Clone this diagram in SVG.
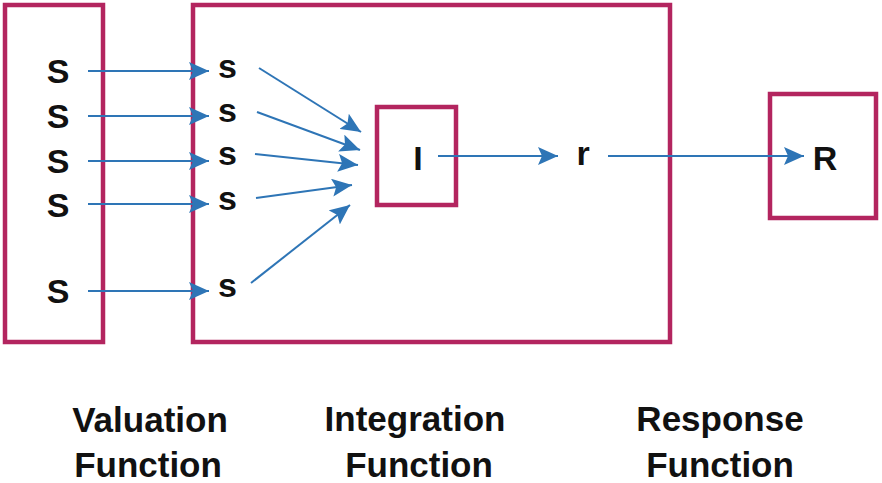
<svg xmlns="http://www.w3.org/2000/svg" width="882" height="483" viewBox="0 0 882 483">
  <style>
    .box { fill: none; stroke: #B3255F; stroke-width: 4.5; }
    .lbl { font-family: "Liberation Sans", Arial, sans-serif; font-weight: bold; font-size: 34px; fill: #111; }
    .cap { font-family: "Liberation Sans", Arial, sans-serif; font-weight: bold; font-size: 35px; fill: #111; text-anchor: middle; }
    .edge { fill: none; stroke: #2E75B6; stroke-width: 2; marker-end: url(#arrow); }
  </style>
  <defs>
    <marker id="arrow" markerUnits="userSpaceOnUse" markerWidth="22" markerHeight="18" refX="20" refY="9" orient="auto">
      <path d="M0,0 L20,9 L0,18 L4,9 z" fill="#2E75B6"/>
    </marker>
  </defs>
  <rect width="882" height="483" fill="#fff"/>

  <!-- Valuation stage -->
  <g id="valuation">
    <rect class="box" x="5" y="5" width="98" height="337"/>
    <text class="lbl" x="58" y="83" text-anchor="middle">S</text>
    <text class="lbl" x="58" y="128" text-anchor="middle">S</text>
    <text class="lbl" x="58" y="173" text-anchor="middle">S</text>
    <text class="lbl" x="58" y="217" text-anchor="middle">S</text>
    <text class="lbl" x="58" y="303" text-anchor="middle">S</text>
  </g>

  <!-- Integration stage -->
  <g id="integration">
    <rect class="box" x="193" y="5" width="477" height="337"/>
    <text class="lbl" x="218" y="78">s</text>
    <text class="lbl" x="218" y="122">s</text>
    <text class="lbl" x="218" y="165">s</text>
    <text class="lbl" x="218" y="210">s</text>
    <text class="lbl" x="218" y="297">s</text>
    <text class="lbl" x="583" y="165" text-anchor="middle">r</text>
  </g>

  <g id="integrator">
    <rect class="box" x="377" y="107" width="79" height="98"/>
    <text class="lbl" x="418" y="170" text-anchor="middle" font-size="36">I</text>
  </g>

  <!-- Response stage -->
  <g id="response">
    <rect class="box" x="770" y="94" width="106" height="124"/>
    <text class="lbl" x="825" y="170" text-anchor="middle">R</text>
  </g>

  <!-- Connectors -->
  <g id="connectors">
    <line class="edge" x1="88" y1="71" x2="209" y2="71"/>
    <line class="edge" x1="88" y1="116" x2="209" y2="116"/>
    <line class="edge" x1="88" y1="161" x2="209" y2="161"/>
    <line class="edge" x1="88" y1="204" x2="209" y2="204"/>
    <line class="edge" x1="88" y1="291" x2="209" y2="291"/>

    <line class="edge" x1="259" y1="68" x2="361" y2="132"/>
    <line class="edge" x1="257" y1="112" x2="360" y2="150"/>
    <line class="edge" x1="255" y1="154" x2="358" y2="165"/>
    <line class="edge" x1="256" y1="198" x2="352" y2="185"/>
    <line class="edge" x1="251" y1="283" x2="350" y2="205"/>

    <line class="edge" x1="438" y1="156" x2="558" y2="156"/>
    <line class="edge" x1="608" y1="156" x2="804" y2="156"/>
  </g>

  <!-- Stage captions -->
  <g id="captions">
    <text class="cap" x="150" y="432">Valuation</text>
    <text class="cap" x="148" y="477">Function</text>
    <text class="cap" x="415" y="431">Integration</text>
    <text class="cap" x="419" y="477">Function</text>
    <text class="cap" x="720" y="431">Response</text>
    <text class="cap" x="720" y="477">Function</text>
  </g>
</svg>
